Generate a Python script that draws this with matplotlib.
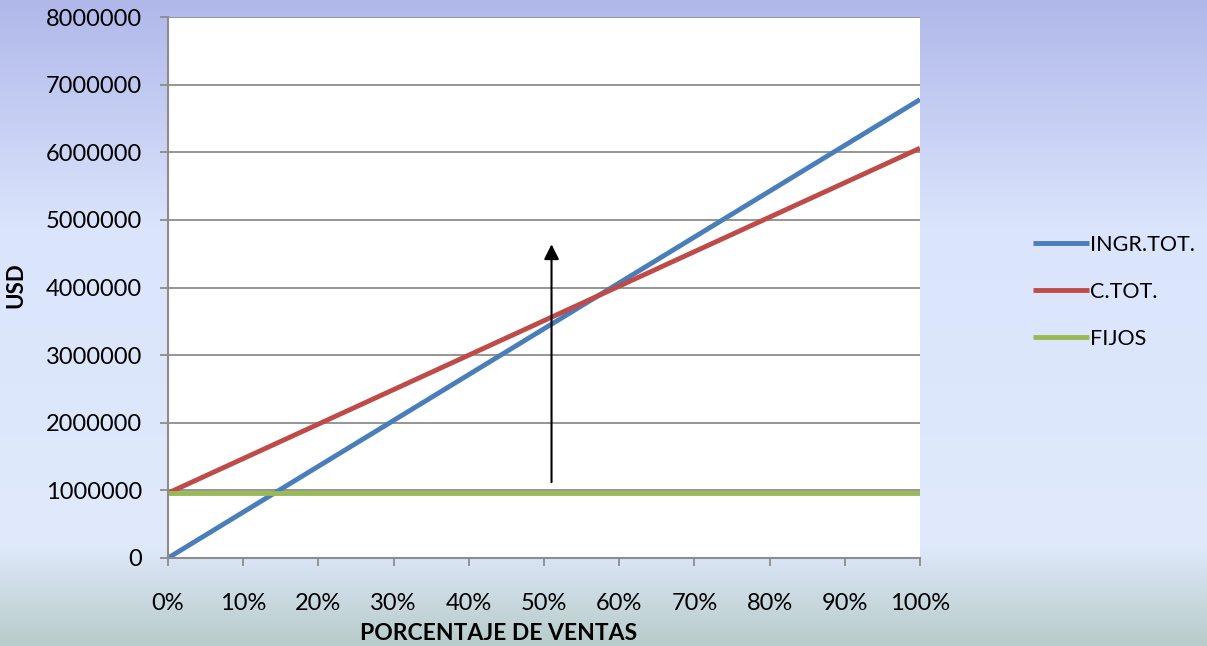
import matplotlib
matplotlib.use("Agg")
import matplotlib.pyplot as plt
import numpy as np
from matplotlib.colors import LinearSegmentedColormap

plt.rcParams['font.family'] = ['Lato', 'DejaVu Sans']

# Break-even data: sales percentage vs USD
ventas_pct = [0, 10, 20, 30, 40, 50, 60, 70, 80, 90, 100]
ingresos = [0, 678000, 1356000, 2034000, 2712000, 3390000,
            4068000, 4746000, 5424000, 6102000, 6780000]
costos_tot = [960000, 1470000, 1980000, 2490000, 3000000, 3510000,
              4020000, 4530000, 5040000, 5550000, 6060000]
fijos = [960000] * 11
series_names = ["INGR.TOT.", "C.TOT.", "FIJOS"]
series_colors = ["#4a7ebb", "#be4b48", "#98b954"]

flecha_x = 51
flecha_desde = 1080000
flecha_hasta = 4680000

fig = plt.figure(figsize=(12.07, 6.46), dpi=100)

# background gradient, top to bottom
bg = fig.add_axes([0, 0, 1, 1], zorder=-10)
bg.axis("off")
cmap = LinearSegmentedColormap.from_list("fondo", [
    (0.00, (176/255, 184/255, 234/255)),
    (0.35, (218/255, 228/255, 251/255)),
    (0.84, (224/255, 234/255, 252/255)),
    (0.88, (214/255, 226/255, 240/255)),
    (1.00, (184/255, 204/255, 202/255)),
])
grad = np.linspace(0, 1, 256).reshape(-1, 1)
bg.imshow(grad, aspect="auto", cmap=cmap, extent=[0, 1, 0, 1], origin="upper")
bg.set_xlim(0, 1)
bg.set_ylim(0, 1)

ax = fig.add_axes([168/1207, 88/646, 752/1207, 541/646])
ax.set_facecolor("white")

for vals, name, col in zip([ingresos, costos_tot, fijos], series_names, series_colors):
    ax.plot(ventas_pct, vals, color=col, lw=3.5, label=name, solid_capstyle="butt")

ax.annotate("", xy=(flecha_x, flecha_hasta), xytext=(flecha_x, flecha_desde),
            arrowprops=dict(arrowstyle="-|>,head_length=0.9,head_width=0.45",
                            color="black", lw=1.5))

ax.set_xlim(0, 100)
ax.set_ylim(0, 8000000)
ax.set_xticks(ventas_pct)
ax.set_xticklabels([f"{v}%" for v in ventas_pct])
ax.set_yticks(range(0, 8000001, 1000000))
ax.set_yticklabels([str(v) for v in range(0, 8000001, 1000000)])
ax.yaxis.grid(True, color="#8c8c8c", lw=1.3)
ax.set_axisbelow(True)
ax.tick_params(axis="both", labelsize=17, color="#8c8c8c", width=1.3, length=6)
ax.tick_params(axis="x", pad=19)
ax.tick_params(axis="y", pad=12.5)

for s in ["top", "right"]:
    ax.spines[s].set_visible(False)
for s in ["left", "bottom"]:
    ax.spines[s].set_color("#8c8c8c")
    ax.spines[s].set_linewidth(1.5)

fig.text(16/1207, 1 - 285/646, "USD", rotation=90, fontsize=16, fontweight="bold",
         ha="center", va="center")
fig.text(499/1207, 1 - 634/646, "PORCENTAJE DE VENTAS", fontsize=16.5,
         fontweight="bold", ha="center", va="center")

leg = ax.legend(loc="center left", bbox_to_anchor=(1.15, 0.492), frameon=False,
                fontsize=15.5, handlelength=2.6, handletextpad=0.05, labelspacing=1.25,
                borderaxespad=0, borderpad=0)

fig.savefig("out.png", dpi=100)
